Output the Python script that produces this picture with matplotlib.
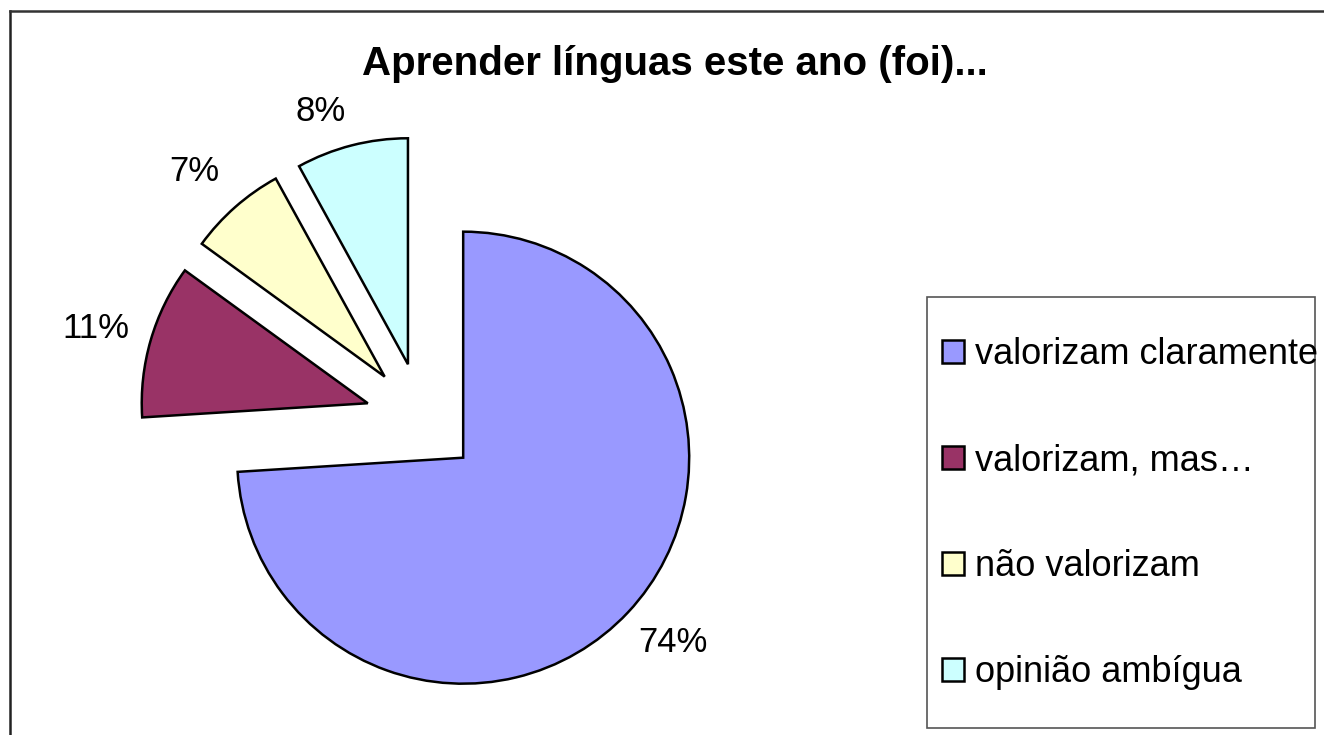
import matplotlib
matplotlib.use("Agg")
import numpy as np
import matplotlib.pyplot as plt
from matplotlib.patches import Rectangle
from matplotlib.lines import Line2D

plt.rcParams["font.family"] = ["Liberation Sans", "DejaVu Sans"]

# dados
categorias = ["valorizam claramente", "valorizam, mas\u2026", "não valorizam", "opinião ambígua"]
valores = [74, 11, 7, 8]
cores = ["#9999FF", "#993366", "#FFFFCC", "#CCFFFF"]
titulo = "Aprender línguas este ano (foi)..."
# posicao dos rotulos: distancia (em raios) e desvio de angulo (graus)
dist_rotulos = [1.236, 1.246, 1.238, 1.181]
desvio_rotulos = [1.9, 0.9, 1.6, 4.6]

W, H = 1324, 735
fig = plt.figure(figsize=(W / 100, H / 100), dpi=100)

# pie axes: centre at (422, 419) px, radius 226 px
cx, cy, r = 422, 419, 226
ax = fig.add_axes([0, 0, 1, 1])
wedges, _, autotexts = ax.pie(
    valores,
    colors=cores,
    explode=[0.25] * len(valores),
    startangle=90,
    counterclock=False,
    autopct="%1.0f%%",
    pctdistance=1.23,
    wedgeprops=dict(edgecolor="black", linewidth=1.8),
    textprops=dict(fontsize=25, color="black"),
)
# afinar a posicao de cada rotulo
for w, t, d, da in zip(wedges, autotexts, dist_rotulos, desvio_rotulos):
    ang = np.deg2rad((w.theta1 + w.theta2) / 2 + da)
    x0, y0 = w.center
    t.set_position((x0 + d * w.r * np.cos(ang), y0 + d * w.r * np.sin(ang)))

ax.set_xlim(-cx / r, (W - cx) / r)
ax.set_ylim(-(H - cy) / r, cy / r)
ax.set_aspect("equal")
ax.axis("off")

# titulo
fig.text(675 / W, 1 - 75 / H, titulo, ha="center", va="baseline",
         fontsize=29, fontweight="bold")

# caixa da legenda
fig.add_artist(Rectangle((927 / W, 1 - 728 / H), (1315 - 927) / W, (728 - 297) / H,
                         transform=fig.transFigure, facecolor="none",
                         edgecolor="#555555", linewidth=1.2))
leg = fig.legend(wedges, categorias, loc="upper left",
                 bbox_to_anchor=(942 / W, 1 - 337 / H),
                 frameon=False, fontsize=26, borderpad=0, borderaxespad=0,
                 handlelength=0.61, handleheight=0.61, handletextpad=0.3,
                 labelspacing=1.97)

# moldura do grafico (so topo e esquerda visiveis)
fig.add_artist(Line2D([10 / W, 10 / W], [0, 1 - 11 / H], transform=fig.transFigure,
                      color="#222222", linewidth=1.8))
fig.add_artist(Line2D([10 / W, 1], [1 - 11 / H, 1 - 11 / H], transform=fig.transFigure,
                      color="#333333", linewidth=1.8))

fig.savefig("out.png", dpi=100)
